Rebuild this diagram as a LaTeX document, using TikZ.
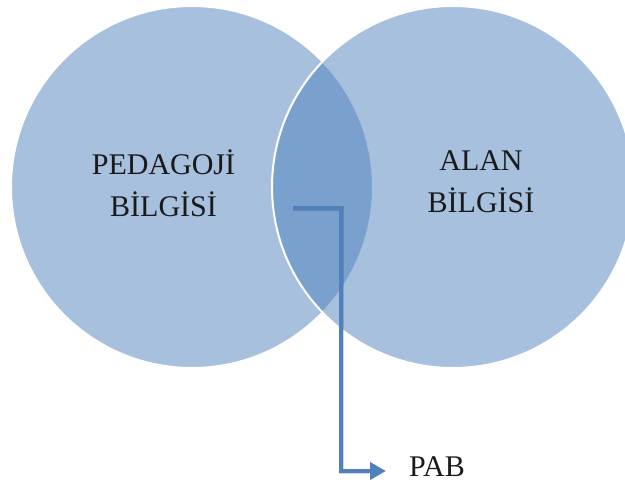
\documentclass[tikz,border=0pt]{standalone}
\usepackage{fontspec}
\setmainfont{Liberation Serif}
\usetikzlibrary{arrows.meta}
\definecolor{accent}{HTML}{4F81BD}
\definecolor{inktext}{HTML}{1A1A1A}
\begin{document}
\begin{tikzpicture}[x=1pt,y=-1pt,
  setdisc/.style={circle, draw=white, line width=2pt, fill=accent,
    fill opacity=0.5, minimum size=362pt, inner sep=0pt},
  setlabel/.style={font=\fontsize{30}{42}\selectfont, align=center,
    text=inktext, inner sep=0pt},
  pointer/.style={draw=accent, line width=4.5pt,
    -{Triangle[length=16pt,width=17pt]}},
  pointershade/.style={draw=black, opacity=0.16, line width=5pt}
]
\useasboundingbox (0,0) rectangle (625,487);
\clip (0,0) rectangle (625,487);

% the two overlapping sets
\node[setdisc] (left) at (192,187) {};
\node[setdisc] (right) at (453,187) {};

% set names
\node[setlabel] (ped) at (163.5,183) {PEDAGOJİ\\BİLGİSİ};
\node[setlabel] (alan) at (481,182) {ALAN\\BİLGİSİ};

% label of the intersection
\node[font=\fontsize{30}{36}\selectfont, text=inktext, anchor=west,
  inner sep=0pt] (pab) at (409,467) {PAB};

% elbow pointer from the intersection to its label
\coordinate (start) at (293,208);
\coordinate (bend) at (341,471);
\draw[pointershade, shift={(2,2)}] (start) -| (bend) -- ([xshift=-40pt]bend -| pab.west);
\draw[pointer, shorten >=23pt] (start) -| (bend) -- (bend -| pab.west);
\end{tikzpicture}
\end{document}
